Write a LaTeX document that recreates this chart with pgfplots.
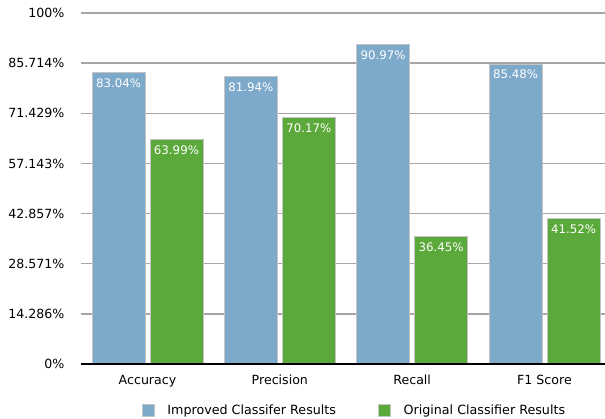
\documentclass[border=0pt]{standalone}
\usepackage{fontspec}
\setmainfont{DejaVu Sans}
\usepackage{pgfplots}
\pgfplotsset{compat=1.18}

\definecolor{barblue}{HTML}{7DA9CA}
\definecolor{bargreen}{HTML}{5BA93A}
\definecolor{gridgray}{HTML}{A6A6A6}
\definecolor{edgegray}{HTML}{C4C4C4}

\begin{document}
\begin{tikzpicture}
\begin{axis}[
  name=ax,
  scale only axis,
  width=524pt, height=351pt,
  xmin=-0.5025, xmax=3.457,
  ymin=0, ymax=100,
  axis line style={draw=none},
  ymajorgrids,
  grid style={gridgray, line width=1.3pt},
  major tick length=0pt,
  xtick={0,1,2,3},
  xticklabels={Accuracy,Precision,Recall,F1 Score},
  ytick={0,14.286,28.571,42.857,57.143,71.429,85.714,100},
  yticklabels={0\%,14.286\%,28.571\%,42.857\%,57.143\%,71.429\%,85.714\%,100\%},
  /pgf/number format/assume math mode=true,
  tick label style={font=\fontsize{12.6}{14}\selectfont, text=black},
  yticklabel style={anchor=east, xshift=-13pt},
  xticklabel style={anchor=north, yshift=-7.5pt},
  ybar,
  bar width=0.40,
  nodes near coords={\pgfmathprintnumber[fixed,precision=2,fixed zerofill]{\pgfplotspointmeta}\%},
  every node near coord/.append style={
    anchor=north, yshift=-6pt, inner sep=0pt, text=white,
    font=\fontsize{11.8}{13}\selectfont},
  legend columns=2,
  legend style={
    draw=none, fill=none,
    at={(0.522,-0.131)}, anchor=center,
    font=\fontsize{12.7}{14}\selectfont,
    /tikz/every even column/.append style={column sep=40pt},
  },
  legend image code/.code={
    \fill[#1] (0pt,-6pt) rectangle (12pt,6pt);
  },
]
\addplot+[bar shift=-0.219, draw=edgegray, line width=0.5pt, fill=barblue]
  coordinates {(0,83.04) (1,81.94) (2,90.97) (3,85.48)};
\addlegendentry{\hspace{11pt}Improved Classifer Results}
\addplot+[bar shift=0.219, draw=edgegray, line width=0.5pt, fill=bargreen]
  coordinates {(0,63.99) (1,70.17) (2,36.45) (3,41.52)};
\addlegendentry{\hspace{11pt}Original Classifier Results}
\draw[black, line width=1.3pt] (rel axis cs:0,0) -- (rel axis cs:1,0);
\end{axis}
\pgfresetboundingbox
\path[use as bounding box] ([xshift=-81pt,yshift=-54pt]ax.south west)
  rectangle ([yshift=13pt]ax.north east);
\end{tikzpicture}
\end{document}
